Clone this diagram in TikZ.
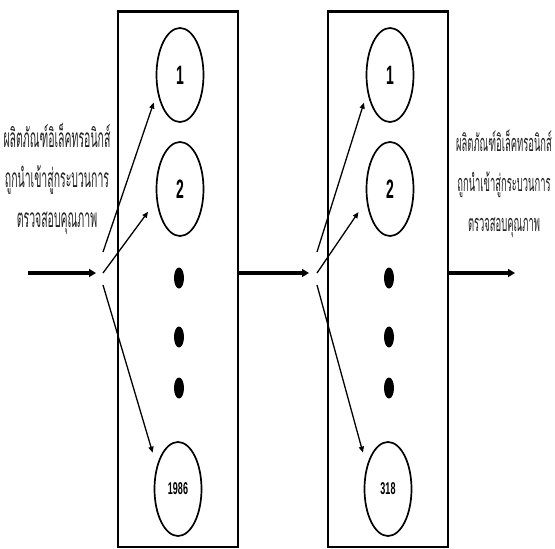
\documentclass[tikz,border=0pt]{standalone}
\usepackage{fontspec}
\usepackage{xcolor}
\setmainfont{Liberation Sans}
\newfontfamily\thaifont[Script=Thai]{Loma}
\usetikzlibrary{shapes.geometric,arrows.meta}
\definecolor{captionFg}{HTML}{202020}
\newcommand{\tall}[1]{\scalebox{1}[1.9]{#1}}
\newcommand{\taller}[1]{\scalebox{1}[2.5]{#1}}

\tikzset{
  unit/.style={ellipse, draw, line width=1.7pt, minimum width=47pt, minimum height=94pt,
    inner sep=0pt, font=\bfseries\fontsize{14}{14}\selectfont},
  more/.style={ellipse, fill=black, minimum width=10pt, minimum height=21pt, inner sep=0pt},
  bay/.style={draw, line width=1.3pt, minimum width=120pt, minimum height=535pt, inner sep=0pt},
  feed/.style={line width=3.2pt, -{Triangle[length=7pt,width=8pt]}},
  pick/.style={line width=1.3pt, -{Triangle[length=6pt,width=5pt]}},
  caption/.style={align=center, text=captionFg, font=\thaifont\fontsize{10.5}{40}\selectfont}
}

\begin{document}
\begin{tikzpicture}[x=1pt,y=-1pt]
  \useasboundingbox (0,0) rectangle (555,549);

  % two inspection stages
  \node[bay] (boxA) at (178,279.5) {};
  \node[bay] (boxB) at (388,279.5) {};
  \draw[line width=3pt] (boxA.north west) -- (boxA.north east);
  \draw[line width=3pt] (boxB.north west) -- (boxB.north east);

  \node[unit] (a1) at (180,75) {\tall{1}};
  \node[unit] (a2) at (180,189) {\tall{2}};
  \node[more] (a3) at (179,278) {};
  \node[more] (a4) at (179,337) {};
  \node[more] (a5) at (179,388) {};
  \node[unit] (a6) at (178,489) {\tall{\fontsize{9}{9}\selectfont 1986}};

  \node[unit] (b1) at (390,75) {\tall{1}};
  \node[unit] (b2) at (390,189) {\tall{2}};
  \node[more] (b3) at (389,278) {};
  \node[more] (b4) at (389,337) {};
  \node[more] (b5) at (389,388) {};
  \node[unit] (b6) at (388,489) {\tall{\fontsize{9}{9}\selectfont 318}};

  % flow
  \coordinate (src) at (28,273);
  \coordinate (hubA) at (103,273);
  \coordinate (hubB) at (317,273);
  \coordinate (sink) at (515,273);
  \coordinate (fa1) at (103,252);
  \coordinate (fa3) at (103,285);
  \coordinate (fb1) at (317,252);
  \coordinate (fb3) at (317,285);

  \draw[feed, shorten >=7pt] (src) -- (hubA);
  \draw[feed, shorten >=8pt] (boxA.east |- hubA) -- (hubB);
  \draw[feed] (boxB.east |- hubB) -- (sink);

  \draw[pick, shorten >=11pt] (fa1) -- (a1.217);
  \draw[pick, shorten >=14pt] (hubA) -- (a2.206);
  \draw[pick, shorten >=14pt] (fa3) -- (a6.133);
  \draw[pick, shorten >=11pt] (fb1) -- (b1.217);
  \draw[pick, shorten >=14pt] (hubB) -- (b2.206);
  \draw[pick, shorten >=14pt] (fb3) -- (b6.133);

  % captions
  \node[caption] (inText) at (57,179)
    {\taller{ผลิตภัณฑ์อิเล็คทรอนิกส์}\\\taller{ถูกนำเข้าสู่กระบวนการ}\\\taller{ตรวจสอบคุณภาพ}};
  \node[caption, font=\thaifont\fontsize{9.4}{40}\selectfont] (outText) at (504,184)
    {\taller{ผลิตภัณฑ์อิเล็คทรอนิกส์}\\\taller{ถูกนำเข้าสู่กระบวนการ}\\\taller{ตรวจสอบคุณภาพ}};
\end{tikzpicture}
\end{document}
